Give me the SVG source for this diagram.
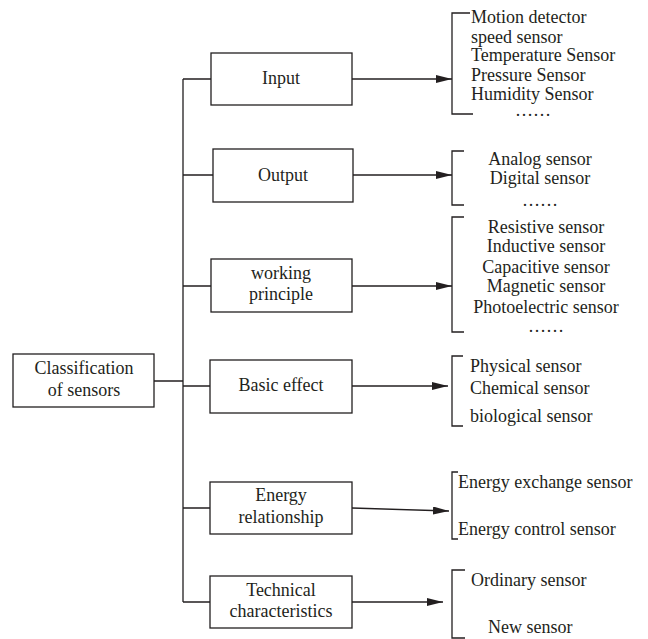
<svg xmlns="http://www.w3.org/2000/svg" width="648" height="639" viewBox="0 0 648 639">
<defs>
<marker id="arr" markerUnits="userSpaceOnUse" markerWidth="17" markerHeight="9" refX="16" refY="4" orient="auto">
<path d="M0,0 L16,4 L0,8 z" fill="#231f20"/>
</marker>
<style>
.box{fill:#fff;stroke:#231f20;stroke-width:1.3}
.ln{fill:none;stroke:#231f20;stroke-width:1.3}
text{font-family:"Liberation Serif","Times New Roman",serif;font-size:18px;fill:#231f20}
.c{text-anchor:middle}
</style>
</defs>
<rect width="648" height="639" fill="#fff"/>
<g id="connectors">
<path class="ln" d="M154,381 H183 M183,79 V602 M183,79 H211 M183,175 H213 M183,286 H211 M183,386 H210 M183,508 H210 M183,602 H210"/>
<path class="ln" d="M352,79 H452" marker-end="url(#arr)"/>
<path class="ln" d="M353,175 H452" marker-end="url(#arr)"/>
<path class="ln" d="M352,286 H452" marker-end="url(#arr)"/>
<path class="ln" d="M352,386 H448" marker-end="url(#arr)"/>
<path class="ln" d="M352,508 L449,511" marker-end="url(#arr)"/>
<path class="ln" d="M352,602 H443" marker-end="url(#arr)"/>
</g>
<g id="root">
<rect class="box" x="13" y="354" width="141" height="53"/>
<text class="c" x="84" y="374">Classification</text>
<text class="c" x="84" y="396">of sensors</text>
</g>
<g id="input">
<rect class="box" x="211" y="53" width="141" height="52"/>
<text class="c" x="281" y="84">Input</text>
</g>
<g id="output">
<rect class="box" x="213" y="149" width="140" height="53"/>
<text class="c" x="283" y="181">Output</text>
</g>
<g id="working">
<rect class="box" x="211" y="259" width="141" height="53"/>
<text class="c" x="281" y="279">working</text>
<text class="c" x="281" y="300">principle</text>
</g>
<g id="basic">
<rect class="box" x="210" y="360" width="142" height="53"/>
<text class="c" x="281" y="391">Basic effect</text>
</g>
<g id="energy">
<rect class="box" x="210" y="482" width="142" height="52"/>
<text class="c" x="281" y="501">Energy</text>
<text class="c" x="281" y="523">relationship</text>
</g>
<g id="technical">
<rect class="box" x="210" y="576" width="142" height="52"/>
<text class="c" x="281" y="596">Technical</text>
<text class="c" x="281" y="617">characteristics</text>
</g>
<g id="input-list">
<path class="ln" d="M470,13 H452 V114 H473"/>
<text x="471" y="23">Motion detector</text>
<text x="471" y="43">speed sensor</text>
<text x="471" y="61">Temperature Sensor</text>
<text x="471" y="81">Pressure Sensor</text>
<text x="471" y="100">Humidity Sensor</text>
<text class="c" x="533" y="116">……</text>
</g>
<g id="output-list">
<path class="ln" d="M464,151 H452 V205 H464"/>
<text class="c" x="540" y="165">Analog sensor</text>
<text class="c" x="540" y="184">Digital sensor</text>
<text class="c" x="540" y="206">……</text>
</g>
<g id="working-list">
<path class="ln" d="M464,217 H452 V332 H464"/>
<text class="c" x="546" y="233">Resistive sensor</text>
<text class="c" x="546" y="252">Inductive sensor</text>
<text class="c" x="546" y="273">Capacitive sensor</text>
<text class="c" x="546" y="292">Magnetic sensor</text>
<text class="c" x="546" y="313">Photoelectric sensor</text>
<text class="c" x="546" y="332">……</text>
</g>
<g id="basic-list">
<path class="ln" d="M463,356 H452 V426 H463"/>
<text x="470" y="372">Physical sensor</text>
<text x="470" y="394">Chemical sensor</text>
<text x="470" y="422">biological sensor</text>
</g>
<g id="energy-list">
<path class="ln" d="M458,472 H452 V539 H458"/>
<text x="458" y="488">Energy exchange sensor</text>
<text x="458" y="535">Energy control sensor</text>
</g>
<g id="technical-list">
<path class="ln" d="M465,570 H452 V638 H465"/>
<text x="471" y="586">Ordinary sensor</text>
<text x="488" y="633">New sensor</text>
</g>
</svg>
